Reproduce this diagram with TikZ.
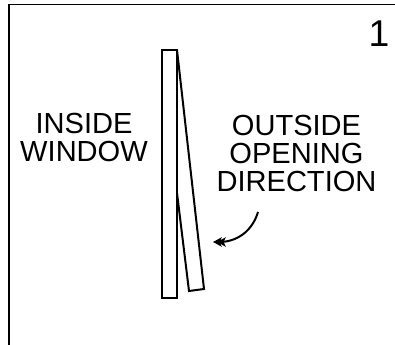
\documentclass[tikz,border=0pt]{standalone}
\usepackage{fontspec}
\setmainfont{Liberation Sans}
\usetikzlibrary{arrows.meta}
\tikzset{
  >=Latex,
  framerule/.style={
    draw=black,
    line width=1.2pt
  },
  windowpart/.style={
    draw=black,
    line width=1.5pt,
    line join=miter
  },
  lab/.style={
    font=\fontsize{21.8}{21}\selectfont,
    align=center,
    text=black,
    inner sep=0pt
  },
  bignumber/.style={
    font=\fontsize{28}{28}\selectfont,
    text=black,
    inner sep=0pt
  },
  turnarrow/.style={
    -{Stealth[length=6.5pt,width=7pt,inset=1.5pt,sep=-3.5pt]Stealth[length=6.5pt,width=7pt,inset=1.5pt]},
    line width=1.5pt,
    draw=black
  }
}
\begin{document}
\begin{tikzpicture}[x=0.75pt,y=-0.75pt]
\useasboundingbox (0,0) rectangle (395,345);

\draw[framerule] (9,345) -- (9,4.5) -- (395,4.5);

\node[bignumber] (number) at (379,33.5) {1};
\node[lab] (inside) at (84,137.5) {INSIDE\\WINDOW};
\node[lab] (outside) at (296.5,153) {OUTSIDE\\OPENING\\DIRECTION};

\draw[windowpart] (162,50) rectangle (177,298);
\draw[windowpart] (177,50) -- (204,289) -- (189,291) -- (177,193);

\coordinate (arrowstart) at (258,212);
\coordinate (arrowend) at (213,242);
\draw[turnarrow] (arrowstart) .. controls (252,232) and (236,242) .. (arrowend);

\end{tikzpicture}
\end{document}
